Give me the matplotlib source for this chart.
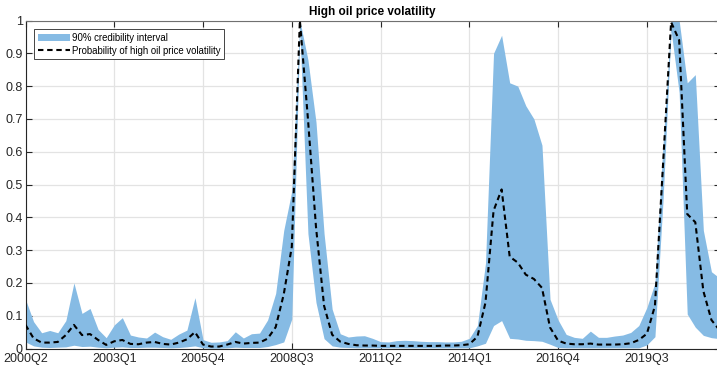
import matplotlib
matplotlib.use("Agg")
import matplotlib.pyplot as plt
import numpy as np

# Quarterly observations 2000Q2 .. 2021Q4
quarters = [f"{y}Q{q}" for y in range(2000, 2022) for q in range(1, 5)][1:]

tick_labels = ["2000Q2", "2003Q1", "2005Q4", "2008Q3", "2011Q2", "2014Q1", "2016Q4", "2019Q3"]

upper = [0.15, 0.082, 0.048, 0.055, 0.048, 0.085, 0.20, 0.107, 0.122, 0.058,
         0.033, 0.072, 0.094, 0.041, 0.035, 0.032, 0.050, 0.036, 0.028, 0.044,
         0.056, 0.155, 0.027, 0.019, 0.020, 0.024, 0.051, 0.032, 0.045, 0.047,
         0.087, 0.168, 0.36, 0.48, 1.0, 0.88, 0.69, 0.35, 0.12, 0.045,
         0.035, 0.038, 0.039, 0.031, 0.021, 0.020, 0.024, 0.025, 0.024, 0.022,
         0.021, 0.021, 0.020, 0.020, 0.022, 0.031, 0.07, 0.26, 0.90, 0.955,
         0.81, 0.80, 0.74, 0.70, 0.62, 0.15, 0.087, 0.043, 0.034, 0.031,
         0.053, 0.034, 0.034, 0.038, 0.041, 0.049, 0.07, 0.125, 0.20, 0.62,
         1.0, 1.0, 0.81, 0.835, 0.36, 0.234, 0.215]

median = [0.072, 0.031, 0.018, 0.018, 0.020, 0.041, 0.072, 0.041, 0.044, 0.026,
          0.011, 0.022, 0.026, 0.014, 0.013, 0.018, 0.020, 0.014, 0.012, 0.018,
          0.028, 0.050, 0.012, 0.006, 0.006, 0.012, 0.020, 0.015, 0.017, 0.018,
          0.030, 0.065, 0.165, 0.31, 1.0, 0.70, 0.37, 0.13, 0.042, 0.021,
          0.014, 0.010, 0.009, 0.009, 0.008, 0.008, 0.008, 0.008, 0.008, 0.008,
          0.008, 0.008, 0.009, 0.009, 0.010, 0.013, 0.036, 0.14, 0.42, 0.485,
          0.28, 0.262, 0.225, 0.212, 0.185, 0.064, 0.024, 0.015, 0.013, 0.013,
          0.015, 0.012, 0.012, 0.012, 0.013, 0.016, 0.026, 0.045, 0.13, 0.56,
          0.995, 0.94, 0.41, 0.385, 0.175, 0.087, 0.056]

lower = [0.020, 0.008, 0.004, 0.003, 0.004, 0.005, 0.010, 0.006, 0.007, 0.004,
         0.002, 0.004, 0.005, 0.003, 0.003, 0.004, 0.004, 0.003, 0.002, 0.003,
         0.005, 0.008, 0.002, 0.001, 0.001, 0.002, 0.004, 0.003, 0.003, 0.003,
         0.006, 0.012, 0.020, 0.09, 0.97, 0.35, 0.14, 0.03, 0.008, 0.004,
         0.003, 0.002, 0.002, 0.002, 0.002, 0.002, 0.002, 0.002, 0.002, 0.002,
         0.002, 0.002, 0.002, 0.002, 0.002, 0.002, 0.008, 0.016, 0.07, 0.085,
         0.031, 0.029, 0.025, 0.024, 0.022, 0.013, 0.003, 0.002, 0.002, 0.002,
         0.002, 0.002, 0.002, 0.002, 0.002, 0.002, 0.002, 0.011, 0.036, 0.45,
         0.97, 0.78, 0.105, 0.065, 0.04, 0.033, 0.03]

x = np.arange(len(quarters))
tick_pos = [quarters.index(t) for t in tick_labels]

W, H = 717, 366
fig = plt.figure(figsize=(W / 100, H / 100), dpi=100)
left_px, right_px, top_px, bot_px = 25.5, 719.5, 20.5, 348.5
ax = fig.add_axes([left_px / W, (H - bot_px) / H, (right_px - left_px) / W, (bot_px - top_px) / H])

band_color = "#86bbe4"
ax.fill_between(x, lower, upper, color=band_color, linewidth=0, zorder=2,
                label="90% credibility interval")
ax.plot(x, median, color="black", linewidth=1.5, linestyle=(0, (2.6, 1.8)), zorder=3,
        label="Probability of high oil price volatility")

ax.set_xlim(0, 86)
ax.set_ylim(0, 1)
ax.set_xticks(tick_pos)
ax.set_xticklabels(tick_labels)
yt = np.round(np.arange(0, 1.01, 0.1), 1)
ax.set_yticks(yt)
ax.set_yticklabels(["0" if v == 0 else ("1" if v == 1 else f"{v:g}") for v in yt])

ax.set_axisbelow(True)
ax.grid(True, color="#e3e3e3", linewidth=0.9, zorder=0)
ax.tick_params(direction="in", length=4, width=0.8, colors="#262626",
               top=True, right=True, labelsize=9)
ax.tick_params(axis="x", pad=3.5)
ax.tick_params(axis="y", pad=2)
for lab in ax.get_xticklabels() + ax.get_yticklabels():
    lab.set_fontfamily("Liberation Sans")
for s in ["left", "bottom"]:
    ax.spines[s].set_color("#262626")
    ax.spines[s].set_linewidth(0.8)
for s in ["top", "right"]:
    ax.spines[s].set_color("#707070")
    ax.spines[s].set_linewidth(0.8)

ax.set_title("High oil price volatility", fontsize=8.5, fontweight="bold",
             fontfamily="Liberation Sans", pad=4, color="black")

axw = right_px - left_px
axh = bot_px - top_px
leg = ax.legend(loc="upper left", bbox_to_anchor=(8.8 / axw, 1 - 8.8 / axh),
                borderaxespad=0, fancybox=False, frameon=True,
                prop={"family": "Liberation Sans", "size": 6.9},
                handlelength=3.4, handletextpad=0.15, labelspacing=0.3,
                borderpad=0.35)
leg.get_frame().set_edgecolor("#262626")
leg.get_frame().set_linewidth(0.6)
leg.get_frame().set_alpha(1)

fig.savefig("out.png", dpi=100)
